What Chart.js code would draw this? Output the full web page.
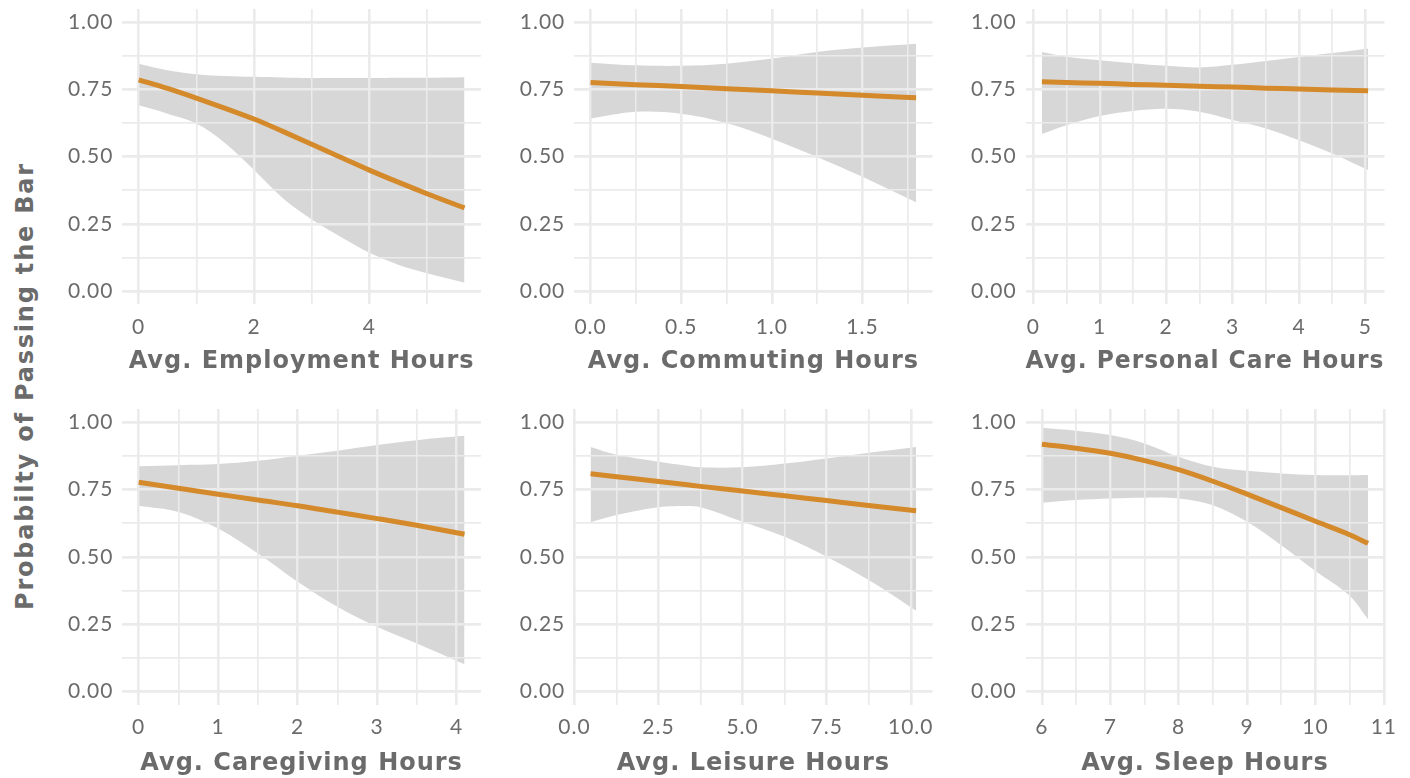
<!DOCTYPE html>
<html>
<head>
<meta charset="utf-8">
<script src="https://cdn.jsdelivr.net/npm/chart.js@4.4.1/dist/chart.umd.min.js"></script>
<style>
  html, body { margin: 0; padding: 0; background: #fff; }
  body { width: 1410px; height: 778px; overflow: hidden; position: relative; }
  canvas { position: absolute; }
  #ytitle {
    position: absolute; left: 25px; top: 386px;
    transform: translate(-50%, -50%) rotate(-90deg);
    font: bold 24px "DejaVu Sans", sans-serif; letter-spacing: 1.8px;
    color: #6B6B6B; white-space: nowrap;
  }
</style>
</head>
<body>
<div id="ytitle">Probabilty of Passing the Bar</div>
<canvas id="employment"></canvas>
<canvas id="commuting"></canvas>
<canvas id="personal"></canvas>
<canvas id="caregiving"></canvas>
<canvas id="leisure"></canvas>
<canvas id="sleep"></canvas>
<script>
// ---- fitted probability curves with confidence bands ----
const employmentHours = [0, 0.5, 1, 1.5, 2, 2.5, 3, 3.5, 4, 4.5, 5, 5.65];
const employmentFit   = [0.786, 0.754, 0.718, 0.680, 0.640, 0.594, 0.546, 0.498, 0.450, 0.405, 0.362, 0.309];
const employmentLow   = [0.691, 0.660, 0.623, 0.550, 0.450, 0.345, 0.266, 0.202, 0.142, 0.098, 0.066, 0.031];
const employmentHigh  = [0.846, 0.822, 0.807, 0.800, 0.797, 0.795, 0.793, 0.793, 0.793, 0.794, 0.794, 0.796];

const commutingHours = [0, 0.25, 0.5, 0.75, 1.0, 1.25, 1.5, 1.796];
const commutingFit   = [0.776, 0.768, 0.761, 0.753, 0.745, 0.737, 0.729, 0.719];
const commutingLow   = [0.642, 0.667, 0.660, 0.625, 0.567, 0.499, 0.425, 0.330];
const commutingHigh  = [0.850, 0.840, 0.838, 0.846, 0.865, 0.890, 0.906, 0.920];

const personalHours = [0.13, 0.5, 1, 1.5, 2, 2.5, 3, 3.5, 4, 4.5, 5.04];
const personalFit   = [0.779, 0.776, 0.773, 0.769, 0.766, 0.762, 0.759, 0.755, 0.752, 0.748, 0.745];
const personalLow   = [0.584, 0.617, 0.651, 0.670, 0.678, 0.667, 0.636, 0.605, 0.561, 0.512, 0.450];
const personalHigh  = [0.890, 0.872, 0.859, 0.848, 0.838, 0.832, 0.842, 0.856, 0.871, 0.886, 0.902];

const caregivingHours = [0, 0.5, 1, 1.5, 2, 2.5, 3, 3.5, 4.1];
const caregivingFit   = [0.777, 0.755, 0.733, 0.711, 0.690, 0.666, 0.642, 0.617, 0.584];
const caregivingLow   = [0.690, 0.667, 0.605, 0.512, 0.407, 0.314, 0.239, 0.177, 0.100];
const caregivingHigh  = [0.837, 0.841, 0.845, 0.857, 0.876, 0.895, 0.916, 0.934, 0.950];

const leisureHours = [0.48, 1.25, 2.5, 3.3, 3.75, 5, 6.25, 7.5, 8.75, 10.16];
const leisureFit   = [0.809, 0.798, 0.780, 0.769, 0.762, 0.745, 0.727, 0.709, 0.691, 0.671];
const leisureLow   = [0.628, 0.655, 0.684, 0.689, 0.684, 0.630, 0.574, 0.500, 0.413, 0.299];
const leisureHigh  = [0.909, 0.880, 0.854, 0.840, 0.833, 0.833, 0.847, 0.866, 0.887, 0.909];

const sleepHours = [6, 6.5, 7, 7.5, 8, 8.5, 9, 9.5, 10, 10.5, 10.77];
const sleepFit   = [0.919, 0.904, 0.885, 0.858, 0.824, 0.781, 0.733, 0.683, 0.632, 0.582, 0.550];
const sleepLow   = [0.701, 0.711, 0.717, 0.720, 0.717, 0.692, 0.630, 0.543, 0.447, 0.355, 0.267];
const sleepHigh  = [0.980, 0.969, 0.953, 0.922, 0.872, 0.835, 0.820, 0.810, 0.804, 0.803, 0.804];

// y axis: minor gridline step and labelled step
const yTickStep = 0.125, yMajorStep = 0.25;

// ---- styling ----
const ORANGE = '#D4892A';
const RIBBON = '#D7D7D7';
const GRID = '#EBEBEB';
const TEXT = '#6B6B6B';
const TICK_FONT = { family: 'Lato, "Open Sans", sans-serif', size: 21 };
const TITLE_FONT = { family: '"DejaVu Sans", sans-serif', size: 24, weight: 'bold' };

// panel frames (plot areas) in page pixels
const COLS = [{ L: 122.4, R: 480.8 }, { L: 574.3, R: 932.4 }, { L: 1025.6, R: 1384.4 }];
const ROWS = [{ T: 8.9, B: 304.4, titleMid: 57 }, { T: 409, B: 704.5, titleMid: 59 }];
const Y_AXIS_W = 70, PAD_T = 15, PAD_R = 22, X_AXIS_H = 72;

const isMultiple = (v, step) => Math.abs(v / step - Math.round(v / step)) < 1e-6;

// lets grid lines show through the confidence band, below the fitted line
const gridOverBand = {
  id: 'gridOverBand',
  beforeDatasetDraw(chart, args) {
    if (args.index !== 2) return;
    chart.scales.x.drawGrid(chart.chartArea);
    chart.scales.y.drawGrid(chart.chartArea);
  }
};
const textSpacing = {
  id: 'textSpacing',
  beforeDraw(chart) { chart.ctx.letterSpacing = '1px'; }
};

function panel(id, col, row, xs, fit, low, high, title, xStep, xMajor, xDecimals) {
  const c = COLS[col], r = ROWS[row];
  const cx = Math.floor(c.L - Y_AXIS_W);
  const cy = Math.floor(r.T - PAD_T);
  const cw = Math.ceil(c.R + PAD_R - cx);
  const ch = Math.ceil(r.B + X_AXIS_H - cy);
  const yW = c.L - cx, padTop = r.T - cy, xH = cy + ch - r.B;
  const canvas = document.getElementById(id);
  canvas.width = cw; canvas.height = ch;
  canvas.style.left = cx + 'px'; canvas.style.top = cy + 'px';
  canvas.style.width = cw + 'px'; canvas.style.height = ch + 'px';

  const span = xs[xs.length - 1] - xs[0];
  const pts = arr => xs.map((x, i) => ({ x, y: arr[i] }));
  const titleLH = TITLE_FONT.size * 1.2;

  new Chart(canvas, {
    type: 'line',
    data: {
      datasets: [
        { data: pts(low), borderColor: 'rgba(0,0,0,0)', borderWidth: 0, pointRadius: 0,
          fill: false, order: 1, tension: 0.35 },
        { data: pts(high), borderColor: 'rgba(0,0,0,0)', borderWidth: 0, pointRadius: 0,
          backgroundColor: RIBBON, fill: '-1', order: 1, tension: 0.35 },
        { data: pts(fit), borderColor: ORANGE, borderWidth: 5, pointRadius: 0, fill: false,
          order: 0, cubicInterpolationMode: 'monotone' }
      ]
    },
    options: {
      responsive: false, animation: false, devicePixelRatio: 1,
      layout: { padding: { left: 0, top: padTop, right: cx + cw - c.R, bottom: 0 } },
      plugins: { legend: { display: false }, tooltip: { enabled: false } },
      scales: {
        x: {
          type: 'linear',
          min: xs[0] - 0.05 * span, max: xs[xs.length - 1] + 0.05 * span,
          border: { display: false },
          grid: { color: GRID, drawTicks: false,
                  lineWidth: ctx => isMultiple(ctx.tick.value, xMajor) ? 2.4 : 1.5 },
          ticks: { stepSize: xStep, includeBounds: false, autoSkip: false, maxRotation: 0,
                   padding: 10, color: TEXT, font: TICK_FONT,
                   callback: v => isMultiple(v, xMajor) ? v.toFixed(xDecimals) : '' },
          title: { display: true, text: title, color: TEXT, font: TITLE_FONT,
                   padding: { top: 0, bottom: xH - r.titleMid - titleLH / 2 } },
          afterFit: s => { s.height = xH; s.paddingLeft = 0; s.paddingRight = 0; }
        },
        y: {
          min: -0.05, max: 1.05,
          border: { display: false },
          grid: { color: GRID, drawTicks: false,
                  lineWidth: ctx => isMultiple(ctx.tick.value, yMajorStep) ? 2.4 : 1.5 },
          ticks: { stepSize: yTickStep, includeBounds: false, autoSkip: false,
                   padding: 9, color: TEXT, font: TICK_FONT,
                   callback: v => isMultiple(v, yMajorStep) ? v.toFixed(2) : '' },
          afterFit: s => { s.width = yW; s.paddingTop = 0; s.paddingBottom = 0; }
        }
      }
    },
    plugins: [gridOverBand, textSpacing]
  });
}

panel('employment', 0, 0, employmentHours, employmentFit, employmentLow, employmentHigh,
      'Avg. Employment Hours', 1, 2, 0);
panel('commuting', 1, 0, commutingHours, commutingFit, commutingLow, commutingHigh,
      'Avg. Commuting Hours', 0.25, 0.5, 1);
panel('personal', 2, 0, personalHours, personalFit, personalLow, personalHigh,
      'Avg. Personal Care Hours', 0.5, 1, 0);
panel('caregiving', 0, 1, caregivingHours, caregivingFit, caregivingLow, caregivingHigh,
      'Avg. Caregiving Hours', 0.5, 1, 0);
panel('leisure', 1, 1, leisureHours, leisureFit, leisureLow, leisureHigh,
      'Avg. Leisure Hours', 1.25, 2.5, 1);
panel('sleep', 2, 1, sleepHours, sleepFit, sleepLow, sleepHigh,
      'Avg. Sleep Hours', 0.5, 1, 0);
</script>
</body>
</html>
